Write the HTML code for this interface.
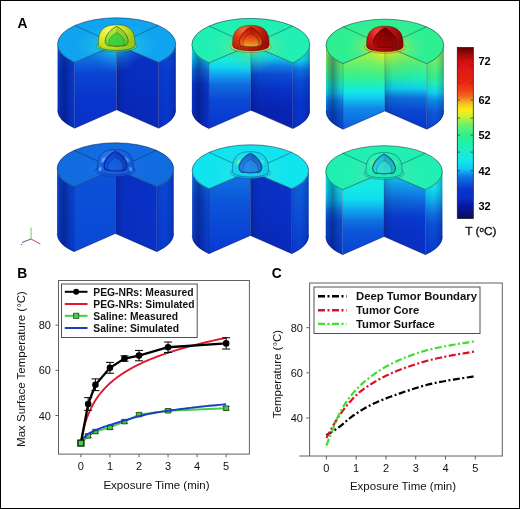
<!DOCTYPE html>
<html><head><meta charset="utf-8"><style>
html,body{margin:0;padding:0;background:#fff;width:520px;height:509px;overflow:hidden;}
svg{display:block;font-family:"Liberation Sans",sans-serif;}
svg{will-change:transform;}
</style></head><body><svg width="520" height="509" viewBox="0 0 520 509" font-family="Liberation Sans, sans-serif"><defs><linearGradient id="lw0" x1="0" y1="50" x2="0" y2="127.5" gradientUnits="userSpaceOnUse"><stop offset="0" stop-color="#0b4dd6"/><stop offset="0.26" stop-color="#093bd1"/><stop offset="1" stop-color="#0834cc"/></linearGradient><linearGradient id="li0" x1="0" y1="50" x2="0" y2="127.5" gradientUnits="userSpaceOnUse"><stop offset="0" stop-color="#108ce9"/><stop offset="0.15" stop-color="#0f67de"/><stop offset="0.32" stop-color="#0a44d4"/><stop offset="0.65" stop-color="#0834cd"/><stop offset="1" stop-color="#0833c9"/></linearGradient><linearGradient id="ri0" x1="0" y1="50" x2="0" y2="127.5" gradientUnits="userSpaceOnUse"><stop offset="0" stop-color="#0a44d4"/><stop offset="0.13" stop-color="#0831c7"/><stop offset="1" stop-color="#0828ba"/></linearGradient><linearGradient id="rw0" x1="0" y1="50" x2="0" y2="127.5" gradientUnits="userSpaceOnUse"><stop offset="0" stop-color="#0b4dd6"/><stop offset="0.26" stop-color="#093dd2"/><stop offset="1" stop-color="#0834cc"/></linearGradient><linearGradient id="lsh0" x1="-59.1" y1="0" x2="-42" y2="0" gradientUnits="userSpaceOnUse"><stop offset="0" stop-color="#000040" stop-opacity="0.05"/><stop offset="0.15" stop-color="#000040" stop-opacity="0.22"/><stop offset="0.4" stop-color="#000040" stop-opacity="0.38"/><stop offset="0.7" stop-color="#000040" stop-opacity="0.18"/><stop offset="1" stop-color="#000040" stop-opacity="0.03"/></linearGradient><linearGradient id="rsh0" x1="42" y1="0" x2="59.1" y2="0" gradientUnits="userSpaceOnUse"><stop offset="0" stop-color="#000040" stop-opacity="0.08"/><stop offset="0.5" stop-color="#000040" stop-opacity="0.0"/><stop offset="0.85" stop-color="#000040" stop-opacity="0.15"/><stop offset="1" stop-color="#000040" stop-opacity="0.3"/></linearGradient><linearGradient id="ris0" x1="0" y1="0" x2="42" y2="0" gradientUnits="userSpaceOnUse"><stop offset="0" stop-color="#000020" stop-opacity="0.2"/><stop offset="0.2" stop-color="#000020" stop-opacity="0.05"/><stop offset="1" stop-color="#000020" stop-opacity="0"/></linearGradient><radialGradient id="tg0" cx="0" cy="46.7" r="40" gradientUnits="userSpaceOnUse" gradientTransform="translate(0,46.7) scale(1,0.55) translate(0,-46.7)"><stop offset="0" stop-color="#30e0a0" stop-opacity="0.95"/><stop offset="0.3" stop-color="#20d8d8" stop-opacity="0.85"/><stop offset="0.6" stop-color="#20c8e8" stop-opacity="0.45"/><stop offset="1" stop-color="#20c0e0" stop-opacity="0"/></radialGradient><radialGradient id="fg0" cx="0" cy="48.7" r="24" gradientUnits="userSpaceOnUse" gradientTransform="translate(0,48.7) scale(1.1,1) translate(0,-48.7)"><stop offset="0" stop-color="#30e0b0" stop-opacity="0.9"/><stop offset="0.35" stop-color="#20c8e0" stop-opacity="0.45"/><stop offset="1" stop-color="#2090e8" stop-opacity="0"/></radialGradient><radialGradient id="dm0" cx="-7" cy="30.7" r="24" gradientUnits="userSpaceOnUse"><stop offset="0" stop-color="#f8f870"/><stop offset="0.45" stop-color="#e0ec28"/><stop offset="1" stop-color="#98c818"/></radialGradient><linearGradient id="hg0" x1="0" y1="29.7" x2="0" y2="49.7" gradientUnits="userSpaceOnUse"><stop offset="0" stop-color="#c0e830"/><stop offset="0.5" stop-color="#80e040"/><stop offset="1" stop-color="#40d040"/></linearGradient><linearGradient id="lw1" x1="0" y1="50" x2="0" y2="127.5" gradientUnits="userSpaceOnUse"><stop offset="0" stop-color="#13e9e7"/><stop offset="0.1" stop-color="#10cbf0"/><stop offset="0.26" stop-color="#1070e0"/><stop offset="0.45" stop-color="#093bd1"/><stop offset="0.65" stop-color="#0833cb"/><stop offset="1" stop-color="#0834cc"/></linearGradient><linearGradient id="li1" x1="0" y1="50" x2="0" y2="127.5" gradientUnits="userSpaceOnUse"><stop offset="0" stop-color="#22f0ad"/><stop offset="0.13" stop-color="#1aebd6"/><stop offset="0.23" stop-color="#10d2ef"/><stop offset="0.34" stop-color="#109aee"/><stop offset="0.45" stop-color="#106cdf"/><stop offset="0.65" stop-color="#0a48d5"/><stop offset="1" stop-color="#0836d0"/></linearGradient><linearGradient id="ri1" x1="0" y1="50" x2="0" y2="127.5" gradientUnits="userSpaceOnUse"><stop offset="0" stop-color="#20ecc5"/><stop offset="0.1" stop-color="#10d2ef"/><stop offset="0.21" stop-color="#107ee5"/><stop offset="0.32" stop-color="#0b4dd6"/><stop offset="0.52" stop-color="#0831c7"/><stop offset="0.77" stop-color="#0824b6"/><stop offset="1" stop-color="#0822b3"/></linearGradient><linearGradient id="rw1" x1="0" y1="50" x2="0" y2="127.5" gradientUnits="userSpaceOnUse"><stop offset="0" stop-color="#17eade"/><stop offset="0.13" stop-color="#10d2ef"/><stop offset="0.26" stop-color="#1070e0"/><stop offset="0.39" stop-color="#0b4dd6"/><stop offset="0.65" stop-color="#0835cf"/><stop offset="1" stop-color="#0834cc"/></linearGradient><linearGradient id="lsh1" x1="-59.1" y1="0" x2="-42" y2="0" gradientUnits="userSpaceOnUse"><stop offset="0" stop-color="#000040" stop-opacity="0.05"/><stop offset="0.15" stop-color="#000040" stop-opacity="0.22"/><stop offset="0.4" stop-color="#000040" stop-opacity="0.38"/><stop offset="0.7" stop-color="#000040" stop-opacity="0.18"/><stop offset="1" stop-color="#000040" stop-opacity="0.03"/></linearGradient><linearGradient id="rsh1" x1="42" y1="0" x2="59.1" y2="0" gradientUnits="userSpaceOnUse"><stop offset="0" stop-color="#000040" stop-opacity="0.08"/><stop offset="0.5" stop-color="#000040" stop-opacity="0.0"/><stop offset="0.85" stop-color="#000040" stop-opacity="0.15"/><stop offset="1" stop-color="#000040" stop-opacity="0.3"/></linearGradient><linearGradient id="ris1" x1="0" y1="0" x2="42" y2="0" gradientUnits="userSpaceOnUse"><stop offset="0" stop-color="#000020" stop-opacity="0.2"/><stop offset="0.2" stop-color="#000020" stop-opacity="0.05"/><stop offset="1" stop-color="#000020" stop-opacity="0"/></linearGradient><radialGradient id="tg1" cx="0" cy="46.7" r="40" gradientUnits="userSpaceOnUse" gradientTransform="translate(0,46.7) scale(1,0.55) translate(0,-46.7)"><stop offset="0" stop-color="#c0f040" stop-opacity="0.9"/><stop offset="0.35" stop-color="#80e880" stop-opacity="0.5"/><stop offset="1" stop-color="#60e0a0" stop-opacity="0"/></radialGradient><radialGradient id="fg1" cx="0" cy="48.7" r="26" gradientUnits="userSpaceOnUse" gradientTransform="translate(0,48.7) scale(1.1,1) translate(0,-48.7)"><stop offset="0" stop-color="#90e860" stop-opacity="0.9"/><stop offset="0.4" stop-color="#40e0a0" stop-opacity="0.45"/><stop offset="1" stop-color="#30d0d0" stop-opacity="0"/></radialGradient><radialGradient id="dm1" cx="-7" cy="30.7" r="24" gradientUnits="userSpaceOnUse"><stop offset="0" stop-color="#f07030"/><stop offset="0.4" stop-color="#e03810"/><stop offset="1" stop-color="#a01008"/></radialGradient><linearGradient id="hg1" x1="0" y1="29.7" x2="0" y2="49.7" gradientUnits="userSpaceOnUse"><stop offset="0" stop-color="#c01808"/><stop offset="0.45" stop-color="#e04010"/><stop offset="1" stop-color="#f0a020"/></linearGradient><linearGradient id="hn1" x1="0" y1="34.7" x2="0" y2="48.7" gradientUnits="userSpaceOnUse"><stop offset="0" stop-color="#d83010"/><stop offset="0.6" stop-color="#f08020"/><stop offset="1" stop-color="#f8d030"/></linearGradient><linearGradient id="lw2" x1="0" y1="50" x2="0" y2="127.5" gradientUnits="userSpaceOnUse"><stop offset="0" stop-color="#8df059"/><stop offset="0.15" stop-color="#69f06c"/><stop offset="0.32" stop-color="#3bf089"/><stop offset="0.44" stop-color="#20edc3"/><stop offset="0.54" stop-color="#10d5ef"/><stop offset="0.65" stop-color="#1087e8"/><stop offset="0.8" stop-color="#0d59da"/><stop offset="1" stop-color="#0a48d5"/></linearGradient><linearGradient id="li2" x1="0" y1="50" x2="0" y2="127.5" gradientUnits="userSpaceOnUse"><stop offset="0" stop-color="#d4f02f"/><stop offset="0.15" stop-color="#70f068"/><stop offset="0.32" stop-color="#3bf089"/><stop offset="0.44" stop-color="#20efb9"/><stop offset="0.52" stop-color="#14e9e4"/><stop offset="0.61" stop-color="#10cbf0"/><stop offset="0.75" stop-color="#1087e8"/><stop offset="1" stop-color="#0e60dc"/></linearGradient><linearGradient id="ri2" x1="0" y1="50" x2="0" y2="127.5" gradientUnits="userSpaceOnUse"><stop offset="0" stop-color="#b8f044"/><stop offset="0.15" stop-color="#59f076"/><stop offset="0.36" stop-color="#20f0b3"/><stop offset="0.49" stop-color="#10d2ef"/><stop offset="0.61" stop-color="#1070e0"/><stop offset="0.77" stop-color="#0a48d5"/><stop offset="1" stop-color="#0834cd"/></linearGradient><linearGradient id="rw2" x1="0" y1="50" x2="0" y2="127.5" gradientUnits="userSpaceOnUse"><stop offset="0" stop-color="#8df059"/><stop offset="0.15" stop-color="#69f06c"/><stop offset="0.32" stop-color="#3bf089"/><stop offset="0.44" stop-color="#20edc3"/><stop offset="0.54" stop-color="#10d5ef"/><stop offset="0.65" stop-color="#1087e8"/><stop offset="0.8" stop-color="#0d59da"/><stop offset="1" stop-color="#0a48d5"/></linearGradient><linearGradient id="lsh2" x1="-59.1" y1="0" x2="-42" y2="0" gradientUnits="userSpaceOnUse"><stop offset="0" stop-color="#000040" stop-opacity="0.05"/><stop offset="0.15" stop-color="#000040" stop-opacity="0.22"/><stop offset="0.4" stop-color="#000040" stop-opacity="0.38"/><stop offset="0.7" stop-color="#000040" stop-opacity="0.18"/><stop offset="1" stop-color="#000040" stop-opacity="0.03"/></linearGradient><linearGradient id="rsh2" x1="42" y1="0" x2="59.1" y2="0" gradientUnits="userSpaceOnUse"><stop offset="0" stop-color="#000040" stop-opacity="0.08"/><stop offset="0.5" stop-color="#000040" stop-opacity="0.0"/><stop offset="0.85" stop-color="#000040" stop-opacity="0.15"/><stop offset="1" stop-color="#000040" stop-opacity="0.3"/></linearGradient><linearGradient id="ris2" x1="0" y1="0" x2="42" y2="0" gradientUnits="userSpaceOnUse"><stop offset="0" stop-color="#000020" stop-opacity="0.2"/><stop offset="0.2" stop-color="#000020" stop-opacity="0.05"/><stop offset="1" stop-color="#000020" stop-opacity="0"/></linearGradient><radialGradient id="tg2" cx="0" cy="46.7" r="40" gradientUnits="userSpaceOnUse" gradientTransform="translate(0,46.7) scale(1,0.55) translate(0,-46.7)"><stop offset="0" stop-color="#f8f010" stop-opacity="0.95"/><stop offset="0.35" stop-color="#c0ec40" stop-opacity="0.6"/><stop offset="1" stop-color="#80e080" stop-opacity="0"/></radialGradient><radialGradient id="fg2" cx="0" cy="48.7" r="34" gradientUnits="userSpaceOnUse" gradientTransform="translate(0,48.7) scale(1.1,1) translate(0,-48.7)"><stop offset="0" stop-color="#f0f020" stop-opacity="1.0"/><stop offset="0.25" stop-color="#c0f038" stop-opacity="0.75"/><stop offset="0.6" stop-color="#70f060" stop-opacity="0.35"/><stop offset="1" stop-color="#50f080" stop-opacity="0"/></radialGradient><radialGradient id="dm2" cx="-7" cy="30.7" r="24" gradientUnits="userSpaceOnUse"><stop offset="0" stop-color="#f04838"/><stop offset="0.4" stop-color="#d01818"/><stop offset="1" stop-color="#8a0808"/></radialGradient><linearGradient id="hg2" x1="0" y1="29.7" x2="0" y2="49.7" gradientUnits="userSpaceOnUse"><stop offset="0" stop-color="#800000"/><stop offset="0.6" stop-color="#a80808"/><stop offset="1" stop-color="#c81010"/></linearGradient><linearGradient id="lw3" x1="0" y1="50" x2="0" y2="127.5" gradientUnits="userSpaceOnUse"><stop offset="0" stop-color="#0a48d5"/><stop offset="1" stop-color="#093dd2"/></linearGradient><linearGradient id="li3" x1="0" y1="50" x2="0" y2="127.5" gradientUnits="userSpaceOnUse"><stop offset="0" stop-color="#0c52d8"/><stop offset="1" stop-color="#0a48d5"/></linearGradient><linearGradient id="ri3" x1="0" y1="50" x2="0" y2="127.5" gradientUnits="userSpaceOnUse"><stop offset="0" stop-color="#0832c8"/><stop offset="1" stop-color="#0831c5"/></linearGradient><linearGradient id="rw3" x1="0" y1="50" x2="0" y2="127.5" gradientUnits="userSpaceOnUse"><stop offset="0" stop-color="#0a48d5"/><stop offset="1" stop-color="#093dd2"/></linearGradient><linearGradient id="lsh3" x1="-59.1" y1="0" x2="-42" y2="0" gradientUnits="userSpaceOnUse"><stop offset="0" stop-color="#000040" stop-opacity="0.05"/><stop offset="0.15" stop-color="#000040" stop-opacity="0.22"/><stop offset="0.4" stop-color="#000040" stop-opacity="0.38"/><stop offset="0.7" stop-color="#000040" stop-opacity="0.18"/><stop offset="1" stop-color="#000040" stop-opacity="0.03"/></linearGradient><linearGradient id="rsh3" x1="42" y1="0" x2="59.1" y2="0" gradientUnits="userSpaceOnUse"><stop offset="0" stop-color="#000040" stop-opacity="0.08"/><stop offset="0.5" stop-color="#000040" stop-opacity="0.0"/><stop offset="0.85" stop-color="#000040" stop-opacity="0.15"/><stop offset="1" stop-color="#000040" stop-opacity="0.3"/></linearGradient><linearGradient id="ris3" x1="0" y1="0" x2="42" y2="0" gradientUnits="userSpaceOnUse"><stop offset="0" stop-color="#000020" stop-opacity="0.2"/><stop offset="0.2" stop-color="#000020" stop-opacity="0.05"/><stop offset="1" stop-color="#000020" stop-opacity="0"/></linearGradient><radialGradient id="tg3" cx="0" cy="46.7" r="40" gradientUnits="userSpaceOnUse" gradientTransform="translate(0,46.7) scale(1,0.55) translate(0,-46.7)"><stop offset="0" stop-color="#2070e8" stop-opacity="0.6"/><stop offset="1" stop-color="#2070e8" stop-opacity="0"/></radialGradient><radialGradient id="dm3" cx="-7" cy="30.7" r="24" gradientUnits="userSpaceOnUse"><stop offset="0" stop-color="#2a78ec"/><stop offset="0.5" stop-color="#1a64e4"/><stop offset="1" stop-color="#1458d8"/></radialGradient><radialGradient id="hl3_-12" cx="0" cy="0" r="1" gradientUnits="userSpaceOnUse"><stop offset="0" stop-color="#70c8ff" stop-opacity="0.9"/><stop offset="1" stop-color="#70c8ff" stop-opacity="0"/></radialGradient><radialGradient id="hl3_12" cx="0" cy="0" r="1" gradientUnits="userSpaceOnUse"><stop offset="0" stop-color="#60b0ff" stop-opacity="0.8"/><stop offset="1" stop-color="#60b0ff" stop-opacity="0"/></radialGradient><radialGradient id="hl3_-15.5" cx="0" cy="0" r="1" gradientUnits="userSpaceOnUse"><stop offset="0" stop-color="#80d0ff" stop-opacity="0.8"/><stop offset="1" stop-color="#80d0ff" stop-opacity="0"/></radialGradient><radialGradient id="hl3_15.5" cx="0" cy="0" r="1" gradientUnits="userSpaceOnUse"><stop offset="0" stop-color="#80d0ff" stop-opacity="0.7"/><stop offset="1" stop-color="#80d0ff" stop-opacity="0"/></radialGradient><linearGradient id="hg3" x1="0" y1="29.7" x2="0" y2="49.7" gradientUnits="userSpaceOnUse"><stop offset="0" stop-color="#0c48d4"/><stop offset="1" stop-color="#1256dc"/></linearGradient><linearGradient id="lw4" x1="0" y1="50" x2="0" y2="127.5" gradientUnits="userSpaceOnUse"><stop offset="0" stop-color="#1070e0"/><stop offset="0.32" stop-color="#0b4dd6"/><stop offset="1" stop-color="#093bd1"/></linearGradient><linearGradient id="li4" x1="0" y1="50" x2="0" y2="127.5" gradientUnits="userSpaceOnUse"><stop offset="0" stop-color="#1073e1"/><stop offset="0.32" stop-color="#0c56d9"/><stop offset="1" stop-color="#083ad1"/></linearGradient><linearGradient id="ri4" x1="0" y1="50" x2="0" y2="127.5" gradientUnits="userSpaceOnUse"><stop offset="0" stop-color="#0834cc"/><stop offset="1" stop-color="#082abd"/></linearGradient><linearGradient id="rw4" x1="0" y1="50" x2="0" y2="127.5" gradientUnits="userSpaceOnUse"><stop offset="0" stop-color="#0e64dd"/><stop offset="1" stop-color="#093bd1"/></linearGradient><linearGradient id="lsh4" x1="-59.1" y1="0" x2="-42" y2="0" gradientUnits="userSpaceOnUse"><stop offset="0" stop-color="#000040" stop-opacity="0.05"/><stop offset="0.15" stop-color="#000040" stop-opacity="0.22"/><stop offset="0.4" stop-color="#000040" stop-opacity="0.38"/><stop offset="0.7" stop-color="#000040" stop-opacity="0.18"/><stop offset="1" stop-color="#000040" stop-opacity="0.03"/></linearGradient><linearGradient id="rsh4" x1="42" y1="0" x2="59.1" y2="0" gradientUnits="userSpaceOnUse"><stop offset="0" stop-color="#000040" stop-opacity="0.08"/><stop offset="0.5" stop-color="#000040" stop-opacity="0.0"/><stop offset="0.85" stop-color="#000040" stop-opacity="0.15"/><stop offset="1" stop-color="#000040" stop-opacity="0.3"/></linearGradient><linearGradient id="ris4" x1="0" y1="0" x2="42" y2="0" gradientUnits="userSpaceOnUse"><stop offset="0" stop-color="#000020" stop-opacity="0.2"/><stop offset="0.2" stop-color="#000020" stop-opacity="0.05"/><stop offset="1" stop-color="#000020" stop-opacity="0"/></linearGradient><radialGradient id="tg4" cx="0" cy="46.7" r="40" gradientUnits="userSpaceOnUse" gradientTransform="translate(0,46.7) scale(1,0.55) translate(0,-46.7)"><stop offset="0" stop-color="#40e0e0" stop-opacity="0.7"/><stop offset="1" stop-color="#40e0e0" stop-opacity="0"/></radialGradient><radialGradient id="dm4" cx="-7" cy="30.7" r="24" gradientUnits="userSpaceOnUse"><stop offset="0" stop-color="#20e0e8"/><stop offset="0.5" stop-color="#14dce4"/><stop offset="1" stop-color="#10d0e4"/></radialGradient><radialGradient id="hl4_-12" cx="0" cy="0" r="1" gradientUnits="userSpaceOnUse"><stop offset="0" stop-color="#b0f080" stop-opacity="0.8"/><stop offset="1" stop-color="#b0f080" stop-opacity="0"/></radialGradient><radialGradient id="hl4_12" cx="0" cy="0" r="1" gradientUnits="userSpaceOnUse"><stop offset="0" stop-color="#80f0d0" stop-opacity="0.6"/><stop offset="1" stop-color="#80f0d0" stop-opacity="0"/></radialGradient><linearGradient id="hg4" x1="0" y1="29.7" x2="0" y2="49.7" gradientUnits="userSpaceOnUse"><stop offset="0" stop-color="#1c70e0"/><stop offset="1" stop-color="#2488e8"/></linearGradient><linearGradient id="lw5" x1="0" y1="50" x2="0" y2="127.5" gradientUnits="userSpaceOnUse"><stop offset="0" stop-color="#14e9e4"/><stop offset="0.15" stop-color="#10e2ee"/><stop offset="0.31" stop-color="#10bdf0"/><stop offset="0.45" stop-color="#1073e1"/><stop offset="0.58" stop-color="#0b4fd7"/><stop offset="1" stop-color="#093bd1"/></linearGradient><linearGradient id="li5" x1="0" y1="50" x2="0" y2="127.5" gradientUnits="userSpaceOnUse"><stop offset="0" stop-color="#17eadd"/><stop offset="0.15" stop-color="#14e9e5"/><stop offset="0.28" stop-color="#10e0ef"/><stop offset="0.44" stop-color="#10a4f0"/><stop offset="0.57" stop-color="#1073e1"/><stop offset="0.7" stop-color="#0c56d9"/><stop offset="1" stop-color="#0a44d4"/></linearGradient><linearGradient id="ri5" x1="0" y1="50" x2="0" y2="127.5" gradientUnits="userSpaceOnUse"><stop offset="0" stop-color="#10cbf0"/><stop offset="0.15" stop-color="#1095ec"/><stop offset="0.32" stop-color="#0f67de"/><stop offset="0.52" stop-color="#093bd1"/><stop offset="0.71" stop-color="#0833c9"/><stop offset="1" stop-color="#0830c4"/></linearGradient><linearGradient id="rw5" x1="0" y1="50" x2="0" y2="127.5" gradientUnits="userSpaceOnUse"><stop offset="0" stop-color="#14e9e4"/><stop offset="0.15" stop-color="#10e2ee"/><stop offset="0.32" stop-color="#10abf0"/><stop offset="0.49" stop-color="#106cdf"/><stop offset="0.65" stop-color="#0b4dd6"/><stop offset="1" stop-color="#093bd1"/></linearGradient><linearGradient id="lsh5" x1="-59.1" y1="0" x2="-42" y2="0" gradientUnits="userSpaceOnUse"><stop offset="0" stop-color="#000040" stop-opacity="0.05"/><stop offset="0.15" stop-color="#000040" stop-opacity="0.22"/><stop offset="0.4" stop-color="#000040" stop-opacity="0.38"/><stop offset="0.7" stop-color="#000040" stop-opacity="0.18"/><stop offset="1" stop-color="#000040" stop-opacity="0.03"/></linearGradient><linearGradient id="rsh5" x1="42" y1="0" x2="59.1" y2="0" gradientUnits="userSpaceOnUse"><stop offset="0" stop-color="#000040" stop-opacity="0.08"/><stop offset="0.5" stop-color="#000040" stop-opacity="0.0"/><stop offset="0.85" stop-color="#000040" stop-opacity="0.15"/><stop offset="1" stop-color="#000040" stop-opacity="0.3"/></linearGradient><linearGradient id="ris5" x1="0" y1="0" x2="42" y2="0" gradientUnits="userSpaceOnUse"><stop offset="0" stop-color="#000020" stop-opacity="0.2"/><stop offset="0.2" stop-color="#000020" stop-opacity="0.05"/><stop offset="1" stop-color="#000020" stop-opacity="0"/></linearGradient><radialGradient id="tg5" cx="0" cy="46.7" r="40" gradientUnits="userSpaceOnUse" gradientTransform="translate(0,46.7) scale(1,0.55) translate(0,-46.7)"><stop offset="0" stop-color="#60e0b0" stop-opacity="0.6"/><stop offset="1" stop-color="#60e0b0" stop-opacity="0"/></radialGradient><radialGradient id="dm5" cx="-7" cy="30.7" r="24" gradientUnits="userSpaceOnUse"><stop offset="0" stop-color="#30f0b8"/><stop offset="0.5" stop-color="#24eeb4"/><stop offset="1" stop-color="#20e8b0"/></radialGradient><radialGradient id="hl5_-12" cx="0" cy="0" r="1" gradientUnits="userSpaceOnUse"><stop offset="0" stop-color="#a0f070" stop-opacity="0.7"/><stop offset="1" stop-color="#a0f070" stop-opacity="0"/></radialGradient><radialGradient id="hl5_12" cx="0" cy="0" r="1" gradientUnits="userSpaceOnUse"><stop offset="0" stop-color="#a0f0a0" stop-opacity="0.5"/><stop offset="1" stop-color="#a0f0a0" stop-opacity="0"/></radialGradient><linearGradient id="hg5" x1="0" y1="29.7" x2="0" y2="49.7" gradientUnits="userSpaceOnUse"><stop offset="0" stop-color="#20c0e0"/><stop offset="1" stop-color="#30dcd0"/></linearGradient><linearGradient id="cbar" x1="0" y1="0" x2="0" y2="1"><stop offset="0" stop-color="#600000"/><stop offset="0.04" stop-color="#a00808"/><stop offset="0.08" stop-color="#d01010"/><stop offset="0.13" stop-color="#e01818"/><stop offset="0.19" stop-color="#e82010"/><stop offset="0.25" stop-color="#f04018"/><stop offset="0.29" stop-color="#f07020"/><stop offset="0.31" stop-color="#f0a020"/><stop offset="0.34" stop-color="#f8d020"/><stop offset="0.37" stop-color="#f8f010"/><stop offset="0.41" stop-color="#c0f040"/><stop offset="0.45" stop-color="#70f068"/><stop offset="0.51" stop-color="#30f090"/><stop offset="0.57" stop-color="#20f0b0"/><stop offset="0.61" stop-color="#20ecc8"/><stop offset="0.66" stop-color="#10e8ee"/><stop offset="0.71" stop-color="#10c8f0"/><stop offset="0.73" stop-color="#10a0f0"/><stop offset="0.76" stop-color="#1070e0"/><stop offset="0.83" stop-color="#0836d0"/><stop offset="0.88" stop-color="#0830c4"/><stop offset="0.92" stop-color="#0818a8"/><stop offset="0.98" stop-color="#0a1070"/><stop offset="1" stop-color="#080860"/></linearGradient></defs><rect x="0" y="0" width="520" height="509" fill="#fff"/><g transform="translate(116.65,17.8) scale(1.0) translate(0,-18.5)"><g><path d="M-59.1,44.7 A59.1,26.2 0 0 0 -42,63.1 L-42,128.9 A59.1,26.2 0 0 1 -59.1,110.5 Z" fill="url(#lw0)"/><path d="M-59.1,44.7 A59.1,26.2 0 0 0 -42,63.1 L-42,128.9 A59.1,26.2 0 0 1 -59.1,110.5 Z" fill="url(#lsh0)"/><path d="M42,63.1 A59.1,26.2 0 0 0 59.1,44.7 L59.1,110.5 A59.1,26.2 0 0 1 42,128.9 Z" fill="url(#rw0)"/><path d="M42,63.1 A59.1,26.2 0 0 0 59.1,44.7 L59.1,110.5 A59.1,26.2 0 0 1 42,128.9 Z" fill="url(#rsh0)"/><path d="M-42,63.1 L0,45.2 L0,110.5 L-42,128.9 Z" fill="url(#li0)"/><path d="M0,45.2 L42,63.1 L42,128.9 L0,110.5 Z" fill="url(#ri0)"/><path d="M0,45.2 L42,63.1 L42,128.9 L0,110.5 Z" fill="url(#ris0)"/><path d="M-42,63.1 L0,45.2 L0,110.5 L-42,128.9 Z" fill="url(#fg0)"/><path d="M0,45.2 L42,63.1 L42,128.9 L0,110.5 Z" fill="url(#fg0)" opacity="0.85"/><path d="M0,45.2 L42,63.1 A59.1,26.2 0 1 0 -42,63.1 Z" fill="#10a4f0"/><path d="M0,45.2 L42,63.1 A59.1,26.2 0 1 0 -42,63.1 Z" fill="url(#tg0)"/><path d="M0,45.2 L42,63.1 A59.1,26.2 0 1 0 -42,63.1 Z" fill="none" stroke="#001030" stroke-width="0.8" stroke-opacity="0.6"/><path d="M0,45.2 L-41.79,26.17 M0,45.2 L41.79,26.17" stroke="#001030" stroke-width="0.8" stroke-opacity="0.45" fill="none"/><path d="M0,45.2 L0,110.5 M-42,63.1 L-42,128.9 M42,63.1 L42,128.9" stroke="#001030" stroke-width="0.6" stroke-opacity="0.35" fill="none"/><path d="M-59.1,110.5 A59.1,26.2 0 0 0 -42,128.9 L0,110.5 L42,128.9 A59.1,26.2 0 0 0 59.1,110.5" stroke="#000040" stroke-width="0.9" stroke-opacity="0.45" fill="none"/><ellipse cx="0" cy="46.7" rx="20.5" ry="6" fill="#40d890" fill-opacity="0.7" stroke="#1a2a10" stroke-width="0.6" stroke-opacity="0.5"/><path d="M-18.2,46.2 C-19.2,30.7 -12.5,25.5 0,25.5 C12.5,25.5 19.2,30.7 18.2,46.2 A18.2,5 0 0 1 -18.2,46.2 Z" fill="url(#dm0)" stroke="#1a2a10" stroke-width="0.7" stroke-opacity="0.6"/><path d="M0,27.2 C-5,29.2 -11.5,35.7 -11.5,41.7 C-11.5,45.7 -8.5,47 -4.5,46.5 L0,47 Z" fill="url(#hg0)"/><path d="M0,27.2 C5,29.2 11.5,35.7 11.5,41.7 C11.5,45.7 8.5,47 4.5,46.5 L0,47 Z" fill="url(#hg0)"/><path d="M0,27.2 C5,29.2 11.5,35.7 11.5,41.7 C11.5,45.7 8.5,47 4.5,46.5 L0,47 Z" fill="#000" fill-opacity="0.10"/><path d="M0,27.2 C5,29.2 11.5,35.7 11.5,41.7 C11.5,45.7 8.5,47 4.5,46.5 L0,47 L-4.5,46.5 C-8.5,47 -11.5,45.7 -11.5,41.7 C-11.5,35.7 -5,29.2 0,27.2 Z" fill="none" stroke="#1a2a10" stroke-width="0.8" stroke-opacity="0.7"/><path d="M0,29.2 L0,47" stroke="#1a2a10" stroke-width="0.5" stroke-opacity="0.35"/><path d="M0,33.44 C3.4,34.8 7.82,39.22 7.82,43.3 C7.82,46.02 5.78,46.9 3.06,46.56 L0,46.9 L-3.06,46.56 C-5.78,46.9 -7.82,46.02 -7.82,43.3 C-7.82,39.22 -3.4,34.8 0,33.44 Z" fill="#38d038" fill-opacity="0.85" stroke="#1a2a10" stroke-width="0.6" stroke-opacity="0.5"/></g></g><g transform="translate(250.85,18.4) scale(0.998) translate(0,-18.5)"><g><path d="M-59.1,44.7 A59.1,26.2 0 0 0 -42,63.1 L-42,128.9 A59.1,26.2 0 0 1 -59.1,110.5 Z" fill="url(#lw1)"/><path d="M-59.1,44.7 A59.1,26.2 0 0 0 -42,63.1 L-42,128.9 A59.1,26.2 0 0 1 -59.1,110.5 Z" fill="url(#lsh1)"/><path d="M42,63.1 A59.1,26.2 0 0 0 59.1,44.7 L59.1,110.5 A59.1,26.2 0 0 1 42,128.9 Z" fill="url(#rw1)"/><path d="M42,63.1 A59.1,26.2 0 0 0 59.1,44.7 L59.1,110.5 A59.1,26.2 0 0 1 42,128.9 Z" fill="url(#rsh1)"/><path d="M-42,63.1 L0,45.2 L0,110.5 L-42,128.9 Z" fill="url(#li1)"/><path d="M0,45.2 L42,63.1 L42,128.9 L0,110.5 Z" fill="url(#ri1)"/><path d="M0,45.2 L42,63.1 L42,128.9 L0,110.5 Z" fill="url(#ris1)"/><path d="M-42,63.1 L0,45.2 L0,110.5 L-42,128.9 Z" fill="url(#fg1)"/><path d="M0,45.2 L42,63.1 L42,128.9 L0,110.5 Z" fill="url(#fg1)" opacity="0.85"/><path d="M0,45.2 L42,63.1 A59.1,26.2 0 1 0 -42,63.1 Z" fill="#20f0b3"/><path d="M0,45.2 L42,63.1 A59.1,26.2 0 1 0 -42,63.1 Z" fill="url(#tg1)"/><path d="M0,45.2 L42,63.1 A59.1,26.2 0 1 0 -42,63.1 Z" fill="none" stroke="#001030" stroke-width="0.8" stroke-opacity="0.6"/><path d="M0,45.2 L-41.79,26.17 M0,45.2 L41.79,26.17" stroke="#001030" stroke-width="0.8" stroke-opacity="0.45" fill="none"/><path d="M0,45.2 L0,110.5 M-42,63.1 L-42,128.9 M42,63.1 L42,128.9" stroke="#001030" stroke-width="0.6" stroke-opacity="0.35" fill="none"/><path d="M-59.1,110.5 A59.1,26.2 0 0 0 -42,128.9 L0,110.5 L42,128.9 A59.1,26.2 0 0 0 59.1,110.5" stroke="#000040" stroke-width="0.9" stroke-opacity="0.45" fill="none"/><ellipse cx="0" cy="46.7" rx="20.5" ry="6" fill="#d0f060" fill-opacity="0.7" stroke="#401008" stroke-width="0.6" stroke-opacity="0.5"/><path d="M-18.2,46.2 C-19.2,30.7 -12.5,25.5 0,25.5 C12.5,25.5 19.2,30.7 18.2,46.2 A18.2,5 0 0 1 -18.2,46.2 Z" fill="url(#dm1)" stroke="#401008" stroke-width="0.7" stroke-opacity="0.6"/><path d="M0,27.2 C-5,29.2 -11.5,35.7 -11.5,41.7 C-11.5,45.7 -8.5,47 -4.5,46.5 L0,47 Z" fill="url(#hg1)"/><path d="M0,27.2 C5,29.2 11.5,35.7 11.5,41.7 C11.5,45.7 8.5,47 4.5,46.5 L0,47 Z" fill="url(#hg1)"/><path d="M0,27.2 C5,29.2 11.5,35.7 11.5,41.7 C11.5,45.7 8.5,47 4.5,46.5 L0,47 Z" fill="#000" fill-opacity="0.10"/><path d="M0,27.2 C5,29.2 11.5,35.7 11.5,41.7 C11.5,45.7 8.5,47 4.5,46.5 L0,47 L-4.5,46.5 C-8.5,47 -11.5,45.7 -11.5,41.7 C-11.5,35.7 -5,29.2 0,27.2 Z" fill="none" stroke="#401008" stroke-width="0.8" stroke-opacity="0.7"/><path d="M0,29.2 L0,47" stroke="#401008" stroke-width="0.5" stroke-opacity="0.35"/><path d="M0,33.44 C3.4,34.8 7.82,39.22 7.82,43.3 C7.82,46.02 5.78,46.9 3.06,46.56 L0,46.9 L-3.06,46.56 C-5.78,46.9 -7.82,46.02 -7.82,43.3 C-7.82,39.22 -3.4,34.8 0,33.44 Z" fill="url(#hn1)" fill-opacity="0.85" stroke="#401008" stroke-width="0.6" stroke-opacity="0.5"/></g></g><g transform="translate(384.9,19.2) scale(0.997) translate(0,-18.5)"><g><path d="M-59.1,44.7 A59.1,26.2 0 0 0 -42,63.1 L-42,128.9 A59.1,26.2 0 0 1 -59.1,110.5 Z" fill="url(#lw2)"/><path d="M-59.1,44.7 A59.1,26.2 0 0 0 -42,63.1 L-42,128.9 A59.1,26.2 0 0 1 -59.1,110.5 Z" fill="url(#lsh2)"/><path d="M42,63.1 A59.1,26.2 0 0 0 59.1,44.7 L59.1,110.5 A59.1,26.2 0 0 1 42,128.9 Z" fill="url(#rw2)"/><path d="M42,63.1 A59.1,26.2 0 0 0 59.1,44.7 L59.1,110.5 A59.1,26.2 0 0 1 42,128.9 Z" fill="url(#rsh2)"/><path d="M-42,63.1 L0,45.2 L0,110.5 L-42,128.9 Z" fill="url(#li2)"/><path d="M0,45.2 L42,63.1 L42,128.9 L0,110.5 Z" fill="url(#ri2)"/><path d="M0,45.2 L42,63.1 L42,128.9 L0,110.5 Z" fill="url(#ris2)"/><path d="M-42,63.1 L0,45.2 L0,110.5 L-42,128.9 Z" fill="url(#fg2)"/><path d="M0,45.2 L42,63.1 L42,128.9 L0,110.5 Z" fill="url(#fg2)" opacity="0.85"/><path d="M0,45.2 L42,63.1 A59.1,26.2 0 1 0 -42,63.1 Z" fill="#2ef093"/><path d="M0,45.2 L42,63.1 A59.1,26.2 0 1 0 -42,63.1 Z" fill="url(#tg2)"/><path d="M0,45.2 L42,63.1 A59.1,26.2 0 1 0 -42,63.1 Z" fill="none" stroke="#001030" stroke-width="0.8" stroke-opacity="0.6"/><path d="M0,45.2 L-41.79,26.17 M0,45.2 L41.79,26.17" stroke="#001030" stroke-width="0.8" stroke-opacity="0.45" fill="none"/><path d="M0,45.2 L0,110.5 M-42,63.1 L-42,128.9 M42,63.1 L42,128.9" stroke="#001030" stroke-width="0.6" stroke-opacity="0.35" fill="none"/><path d="M-59.1,110.5 A59.1,26.2 0 0 0 -42,128.9 L0,110.5 L42,128.9 A59.1,26.2 0 0 0 59.1,110.5" stroke="#000040" stroke-width="0.9" stroke-opacity="0.45" fill="none"/><ellipse cx="0" cy="46.7" rx="20.5" ry="6" fill="#f0e020" fill-opacity="0.7" stroke="#400404" stroke-width="0.6" stroke-opacity="0.5"/><path d="M-18.2,46.2 C-19.2,30.7 -12.5,25.5 0,25.5 C12.5,25.5 19.2,30.7 18.2,46.2 A18.2,5 0 0 1 -18.2,46.2 Z" fill="url(#dm2)" stroke="#400404" stroke-width="0.7" stroke-opacity="0.6"/><path d="M0,27.2 C-5,29.2 -11.5,35.7 -11.5,41.7 C-11.5,45.7 -8.5,47 -4.5,46.5 L0,47 Z" fill="url(#hg2)"/><path d="M0,27.2 C5,29.2 11.5,35.7 11.5,41.7 C11.5,45.7 8.5,47 4.5,46.5 L0,47 Z" fill="url(#hg2)"/><path d="M0,27.2 C5,29.2 11.5,35.7 11.5,41.7 C11.5,45.7 8.5,47 4.5,46.5 L0,47 Z" fill="#000" fill-opacity="0.10"/><path d="M0,27.2 C5,29.2 11.5,35.7 11.5,41.7 C11.5,45.7 8.5,47 4.5,46.5 L0,47 L-4.5,46.5 C-8.5,47 -11.5,45.7 -11.5,41.7 C-11.5,35.7 -5,29.2 0,27.2 Z" fill="none" stroke="#400404" stroke-width="0.8" stroke-opacity="0.7"/><path d="M0,29.2 L0,47" stroke="#400404" stroke-width="0.5" stroke-opacity="0.35"/><path d="M0,33.44 C3.4,34.8 7.82,39.22 7.82,43.3 C7.82,46.02 5.78,46.9 3.06,46.56 L0,46.9 L-3.06,46.56 C-5.78,46.9 -7.82,46.02 -7.82,43.3 C-7.82,39.22 -3.4,34.8 0,33.44 Z" fill="#900404" fill-opacity="0.6" stroke="#400404" stroke-width="0.6" stroke-opacity="0.5"/></g></g><g transform="translate(115.4,142.8) scale(0.986) translate(0,-18.5)"><g><path d="M-59.1,44.7 A59.1,26.2 0 0 0 -42,63.1 L-42,128.9 A59.1,26.2 0 0 1 -59.1,110.5 Z" fill="url(#lw3)"/><path d="M-59.1,44.7 A59.1,26.2 0 0 0 -42,63.1 L-42,128.9 A59.1,26.2 0 0 1 -59.1,110.5 Z" fill="url(#lsh3)"/><path d="M42,63.1 A59.1,26.2 0 0 0 59.1,44.7 L59.1,110.5 A59.1,26.2 0 0 1 42,128.9 Z" fill="url(#rw3)"/><path d="M42,63.1 A59.1,26.2 0 0 0 59.1,44.7 L59.1,110.5 A59.1,26.2 0 0 1 42,128.9 Z" fill="url(#rsh3)"/><path d="M-42,63.1 L0,45.2 L0,110.5 L-42,128.9 Z" fill="url(#li3)"/><path d="M0,45.2 L42,63.1 L42,128.9 L0,110.5 Z" fill="url(#ri3)"/><path d="M0,45.2 L42,63.1 L42,128.9 L0,110.5 Z" fill="url(#ris3)"/><path d="M0,45.2 L42,63.1 A59.1,26.2 0 1 0 -42,63.1 Z" fill="#106cdf"/><path d="M0,45.2 L42,63.1 A59.1,26.2 0 1 0 -42,63.1 Z" fill="url(#tg3)"/><path d="M0,45.2 L42,63.1 A59.1,26.2 0 1 0 -42,63.1 Z" fill="none" stroke="#001030" stroke-width="0.8" stroke-opacity="0.6"/><path d="M0,45.2 L-41.79,26.17 M0,45.2 L41.79,26.17" stroke="#001030" stroke-width="0.8" stroke-opacity="0.45" fill="none"/><path d="M0,45.2 L0,110.5 M-42,63.1 L-42,128.9 M42,63.1 L42,128.9" stroke="#001030" stroke-width="0.6" stroke-opacity="0.35" fill="none"/><path d="M-59.1,110.5 A59.1,26.2 0 0 0 -42,128.9 L0,110.5 L42,128.9 A59.1,26.2 0 0 0 59.1,110.5" stroke="#000040" stroke-width="0.9" stroke-opacity="0.45" fill="none"/><ellipse cx="0" cy="46.7" rx="20.5" ry="6" fill="#1a64e4" fill-opacity="0.7" stroke="#061880" stroke-width="0.6" stroke-opacity="0.5"/><path d="M-18.2,46.2 C-19.2,30.7 -12.5,25.5 0,25.5 C12.5,25.5 19.2,30.7 18.2,46.2 A18.2,5 0 0 1 -18.2,46.2 Z" fill="url(#dm3)" stroke="#061880" stroke-width="0.7" stroke-opacity="0.6"/><ellipse cx="0" cy="0" rx="1" ry="1" fill="url(#hl3_-12)" transform="translate(-12,35.7) rotate(-50) scale(4.5,2.5)"/><ellipse cx="0" cy="0" rx="1" ry="1" fill="url(#hl3_12)" transform="translate(12,35.7) rotate(50) scale(4.5,2.5)"/><ellipse cx="0" cy="0" rx="1" ry="1" fill="url(#hl3_-15.5)" transform="translate(-15.5,45.2) rotate(20) scale(2.2,3.5)"/><ellipse cx="0" cy="0" rx="1" ry="1" fill="url(#hl3_15.5)" transform="translate(15.5,45.2) rotate(-20) scale(2.2,3.5)"/><path d="M0,27.2 C-5,29.2 -11.5,35.7 -11.5,41.7 C-11.5,45.7 -8.5,47 -4.5,46.5 L0,47 Z" fill="url(#hg3)"/><path d="M0,27.2 C5,29.2 11.5,35.7 11.5,41.7 C11.5,45.7 8.5,47 4.5,46.5 L0,47 Z" fill="url(#hg3)"/><path d="M0,27.2 C5,29.2 11.5,35.7 11.5,41.7 C11.5,45.7 8.5,47 4.5,46.5 L0,47 Z" fill="#000" fill-opacity="0.10"/><path d="M0,27.2 C5,29.2 11.5,35.7 11.5,41.7 C11.5,45.7 8.5,47 4.5,46.5 L0,47 L-4.5,46.5 C-8.5,47 -11.5,45.7 -11.5,41.7 C-11.5,35.7 -5,29.2 0,27.2 Z" fill="none" stroke="#061880" stroke-width="1.4" stroke-opacity="0.7"/><path d="M0,29.2 L0,47" stroke="#061880" stroke-width="0.5" stroke-opacity="0.35"/><path d="M0,33.44 C3.4,34.8 7.82,39.22 7.82,43.3 C7.82,46.02 5.78,46.9 3.06,46.56 L0,46.9 L-3.06,46.56 C-5.78,46.9 -7.82,46.02 -7.82,43.3 C-7.82,39.22 -3.4,34.8 0,33.44 Z" fill="#1a62e2" fill-opacity="0.8" stroke="#061880" stroke-width="0.6" stroke-opacity="0.5"/></g></g><g transform="translate(250.4,144.8) scale(0.986) translate(0,-18.5)"><g><path d="M-59.1,44.7 A59.1,26.2 0 0 0 -42,63.1 L-42,128.9 A59.1,26.2 0 0 1 -59.1,110.5 Z" fill="url(#lw4)"/><path d="M-59.1,44.7 A59.1,26.2 0 0 0 -42,63.1 L-42,128.9 A59.1,26.2 0 0 1 -59.1,110.5 Z" fill="url(#lsh4)"/><path d="M42,63.1 A59.1,26.2 0 0 0 59.1,44.7 L59.1,110.5 A59.1,26.2 0 0 1 42,128.9 Z" fill="url(#rw4)"/><path d="M42,63.1 A59.1,26.2 0 0 0 59.1,44.7 L59.1,110.5 A59.1,26.2 0 0 1 42,128.9 Z" fill="url(#rsh4)"/><path d="M-42,63.1 L0,45.2 L0,110.5 L-42,128.9 Z" fill="url(#li4)"/><path d="M0,45.2 L42,63.1 L42,128.9 L0,110.5 Z" fill="url(#ri4)"/><path d="M0,45.2 L42,63.1 L42,128.9 L0,110.5 Z" fill="url(#ris4)"/><path d="M0,45.2 L42,63.1 A59.1,26.2 0 1 0 -42,63.1 Z" fill="#10e4ee"/><path d="M0,45.2 L42,63.1 A59.1,26.2 0 1 0 -42,63.1 Z" fill="url(#tg4)"/><path d="M0,45.2 L42,63.1 A59.1,26.2 0 1 0 -42,63.1 Z" fill="none" stroke="#001030" stroke-width="0.8" stroke-opacity="0.6"/><path d="M0,45.2 L-41.79,26.17 M0,45.2 L41.79,26.17" stroke="#001030" stroke-width="0.8" stroke-opacity="0.45" fill="none"/><path d="M0,45.2 L0,110.5 M-42,63.1 L-42,128.9 M42,63.1 L42,128.9" stroke="#001030" stroke-width="0.6" stroke-opacity="0.35" fill="none"/><path d="M-59.1,110.5 A59.1,26.2 0 0 0 -42,128.9 L0,110.5 L42,128.9 A59.1,26.2 0 0 0 59.1,110.5" stroke="#000040" stroke-width="0.9" stroke-opacity="0.45" fill="none"/><ellipse cx="0" cy="46.7" rx="20.5" ry="6" fill="#14dce4" fill-opacity="0.7" stroke="#0a2878" stroke-width="0.6" stroke-opacity="0.5"/><path d="M-18.2,46.2 C-19.2,30.7 -12.5,25.5 0,25.5 C12.5,25.5 19.2,30.7 18.2,46.2 A18.2,5 0 0 1 -18.2,46.2 Z" fill="url(#dm4)" stroke="#0a2878" stroke-width="0.7" stroke-opacity="0.6"/><ellipse cx="0" cy="0" rx="1" ry="1" fill="url(#hl4_-12)" transform="translate(-12,35.7) rotate(-50) scale(4.5,2.5)"/><ellipse cx="0" cy="0" rx="1" ry="1" fill="url(#hl4_12)" transform="translate(12,35.7) rotate(50) scale(4.5,2.5)"/><path d="M0,27.2 C-5,29.2 -11.5,35.7 -11.5,41.7 C-11.5,45.7 -8.5,47 -4.5,46.5 L0,47 Z" fill="url(#hg4)"/><path d="M0,27.2 C5,29.2 11.5,35.7 11.5,41.7 C11.5,45.7 8.5,47 4.5,46.5 L0,47 Z" fill="url(#hg4)"/><path d="M0,27.2 C5,29.2 11.5,35.7 11.5,41.7 C11.5,45.7 8.5,47 4.5,46.5 L0,47 Z" fill="#000" fill-opacity="0.10"/><path d="M0,27.2 C5,29.2 11.5,35.7 11.5,41.7 C11.5,45.7 8.5,47 4.5,46.5 L0,47 L-4.5,46.5 C-8.5,47 -11.5,45.7 -11.5,41.7 C-11.5,35.7 -5,29.2 0,27.2 Z" fill="none" stroke="#0a2878" stroke-width="1.2" stroke-opacity="0.7"/><path d="M0,29.2 L0,47" stroke="#0a2878" stroke-width="0.5" stroke-opacity="0.35"/><path d="M0,33.44 C3.4,34.8 7.82,39.22 7.82,43.3 C7.82,46.02 5.78,46.9 3.06,46.56 L0,46.9 L-3.06,46.56 C-5.78,46.9 -7.82,46.02 -7.82,43.3 C-7.82,39.22 -3.4,34.8 0,33.44 Z" fill="#2a90ea" fill-opacity="0.7" stroke="#0a2878" stroke-width="0.6" stroke-opacity="0.5"/></g></g><g transform="translate(384.05,145.7) scale(0.987) translate(0,-18.5)"><g><path d="M-59.1,44.7 A59.1,26.2 0 0 0 -42,63.1 L-42,128.9 A59.1,26.2 0 0 1 -59.1,110.5 Z" fill="url(#lw5)"/><path d="M-59.1,44.7 A59.1,26.2 0 0 0 -42,63.1 L-42,128.9 A59.1,26.2 0 0 1 -59.1,110.5 Z" fill="url(#lsh5)"/><path d="M42,63.1 A59.1,26.2 0 0 0 59.1,44.7 L59.1,110.5 A59.1,26.2 0 0 1 42,128.9 Z" fill="url(#rw5)"/><path d="M42,63.1 A59.1,26.2 0 0 0 59.1,44.7 L59.1,110.5 A59.1,26.2 0 0 1 42,128.9 Z" fill="url(#rsh5)"/><path d="M-42,63.1 L0,45.2 L0,110.5 L-42,128.9 Z" fill="url(#li5)"/><path d="M0,45.2 L42,63.1 L42,128.9 L0,110.5 Z" fill="url(#ri5)"/><path d="M0,45.2 L42,63.1 L42,128.9 L0,110.5 Z" fill="url(#ris5)"/><path d="M0,45.2 L42,63.1 A59.1,26.2 0 1 0 -42,63.1 Z" fill="#20f0b1"/><path d="M0,45.2 L42,63.1 A59.1,26.2 0 1 0 -42,63.1 Z" fill="url(#tg5)"/><path d="M0,45.2 L42,63.1 A59.1,26.2 0 1 0 -42,63.1 Z" fill="none" stroke="#001030" stroke-width="0.8" stroke-opacity="0.6"/><path d="M0,45.2 L-41.79,26.17 M0,45.2 L41.79,26.17" stroke="#001030" stroke-width="0.8" stroke-opacity="0.45" fill="none"/><path d="M0,45.2 L0,110.5 M-42,63.1 L-42,128.9 M42,63.1 L42,128.9" stroke="#001030" stroke-width="0.6" stroke-opacity="0.35" fill="none"/><path d="M-59.1,110.5 A59.1,26.2 0 0 0 -42,128.9 L0,110.5 L42,128.9 A59.1,26.2 0 0 0 59.1,110.5" stroke="#000040" stroke-width="0.9" stroke-opacity="0.45" fill="none"/><ellipse cx="0" cy="46.7" rx="20.5" ry="6" fill="#24eeb4" fill-opacity="0.7" stroke="#0a3050" stroke-width="0.6" stroke-opacity="0.5"/><path d="M-18.2,46.2 C-19.2,30.7 -12.5,25.5 0,25.5 C12.5,25.5 19.2,30.7 18.2,46.2 A18.2,5 0 0 1 -18.2,46.2 Z" fill="url(#dm5)" stroke="#0a3050" stroke-width="0.7" stroke-opacity="0.6"/><ellipse cx="0" cy="0" rx="1" ry="1" fill="url(#hl5_-12)" transform="translate(-12,35.7) rotate(-50) scale(4.5,2.5)"/><ellipse cx="0" cy="0" rx="1" ry="1" fill="url(#hl5_12)" transform="translate(12,35.7) rotate(50) scale(4.5,2.5)"/><path d="M0,27.2 C-5,29.2 -11.5,35.7 -11.5,41.7 C-11.5,45.7 -8.5,47 -4.5,46.5 L0,47 Z" fill="url(#hg5)"/><path d="M0,27.2 C5,29.2 11.5,35.7 11.5,41.7 C11.5,45.7 8.5,47 4.5,46.5 L0,47 Z" fill="url(#hg5)"/><path d="M0,27.2 C5,29.2 11.5,35.7 11.5,41.7 C11.5,45.7 8.5,47 4.5,46.5 L0,47 Z" fill="#000" fill-opacity="0.10"/><path d="M0,27.2 C5,29.2 11.5,35.7 11.5,41.7 C11.5,45.7 8.5,47 4.5,46.5 L0,47 L-4.5,46.5 C-8.5,47 -11.5,45.7 -11.5,41.7 C-11.5,35.7 -5,29.2 0,27.2 Z" fill="none" stroke="#0a3050" stroke-width="1.2" stroke-opacity="0.7"/><path d="M0,29.2 L0,47" stroke="#0a3050" stroke-width="0.5" stroke-opacity="0.35"/><path d="M0,33.44 C3.4,34.8 7.82,39.22 7.82,43.3 C7.82,46.02 5.78,46.9 3.06,46.56 L0,46.9 L-3.06,46.56 C-5.78,46.9 -7.82,46.02 -7.82,43.3 C-7.82,39.22 -3.4,34.8 0,33.44 Z" fill="#38e0d0" fill-opacity="0.7" stroke="#0a3050" stroke-width="0.6" stroke-opacity="0.5"/></g></g><rect x="457.3" y="47.5" width="16" height="171" fill="url(#cbar)" stroke="#202020" stroke-width="0.8"/><path d="M457.5,65.5 h2.5 M473,65.5 h-2.5" stroke="#303030" stroke-width="0.7"/><path d="M457.5,83 h2.5 M473,83 h-2.5" stroke="#303030" stroke-width="0.7"/><path d="M457.5,100.2 h2.5 M473,100.2 h-2.5" stroke="#303030" stroke-width="0.7"/><path d="M457.5,118.1 h2.5 M473,118.1 h-2.5" stroke="#303030" stroke-width="0.7"/><path d="M457.5,135.1 h2.5 M473,135.1 h-2.5" stroke="#303030" stroke-width="0.7"/><path d="M457.5,152.1 h2.5 M473,152.1 h-2.5" stroke="#303030" stroke-width="0.7"/><path d="M457.5,170.7 h2.5 M473,170.7 h-2.5" stroke="#303030" stroke-width="0.7"/><path d="M457.5,188.5 h2.5 M473,188.5 h-2.5" stroke="#303030" stroke-width="0.7"/><path d="M457.5,205.5 h2.5 M473,205.5 h-2.5" stroke="#303030" stroke-width="0.7"/><text x="478.4" y="65" font-size="11" font-weight="bold">72</text><text x="478.4" y="103.7" font-size="11" font-weight="bold">62</text><text x="478.4" y="139.2" font-size="11" font-weight="bold">52</text><text x="478.4" y="175.2" font-size="11" font-weight="bold">42</text><text x="478.4" y="209.6" font-size="11" font-weight="bold">32</text><text x="465.3" y="235" font-size="11.8" fill="#111" stroke="#111" stroke-width="0.35">T (<tspan font-size="8" dy="-3.5">o</tspan><tspan dy="3.5">C)</tspan></text><g stroke-width="1.1" fill="none" opacity="0.75"><path d="M31.1,239 L31.1,227.5" stroke="#50c050"/><path d="M31.1,239 L22,242.6" stroke="#304070"/><path d="M31.1,239 L40.3,244" stroke="#b04060"/></g><circle cx="21.5" cy="244.5" r="0.7" fill="#667"/><text x="17.6" y="28" font-size="13.8" font-weight="bold">A</text><text x="17.3" y="278" font-size="13.8" font-weight="bold">B</text><text x="271.8" y="278" font-size="13.8" font-weight="bold">C</text><rect x="58.5" y="280.5" width="190.9" height="173.6" fill="none" stroke="#606060" stroke-width="1"/><path d="M55.5,415.5 H58.5" stroke="#606060" stroke-width="1"/><text x="51" y="419.5" font-size="11" text-anchor="end" fill="#111">40</text><path d="M55.5,370.3 H58.5" stroke="#606060" stroke-width="1"/><text x="51" y="374.3" font-size="11" text-anchor="end" fill="#111">60</text><path d="M55.5,325.1 H58.5" stroke="#606060" stroke-width="1"/><text x="51" y="329.1" font-size="11" text-anchor="end" fill="#111">80</text><path d="M80.9,454.1 V457.3" stroke="#606060" stroke-width="1"/><text x="80.9" y="470" font-size="11" text-anchor="middle" fill="#111">0</text><path d="M109.95,454.1 V457.3" stroke="#606060" stroke-width="1"/><text x="109.95" y="470" font-size="11" text-anchor="middle" fill="#111">1</text><path d="M139,454.1 V457.3" stroke="#606060" stroke-width="1"/><text x="139" y="470" font-size="11" text-anchor="middle" fill="#111">2</text><path d="M168.05,454.1 V457.3" stroke="#606060" stroke-width="1"/><text x="168.05" y="470" font-size="11" text-anchor="middle" fill="#111">3</text><path d="M197.1,454.1 V457.3" stroke="#606060" stroke-width="1"/><text x="197.1" y="470" font-size="11" text-anchor="middle" fill="#111">4</text><path d="M226.15,454.1 V457.3" stroke="#606060" stroke-width="1"/><text x="226.15" y="470" font-size="11" text-anchor="middle" fill="#111">5</text><text x="156.5" y="489" font-size="11.5" text-anchor="middle" fill="#111">Exposure Time (min)</text><text transform="translate(25,369) rotate(-90)" font-size="11.5" text-anchor="middle" fill="#111">Max Surface Temperature (°C)</text><path d="M80.9,442.62 L81.48,439.16 L82.06,436.06 L82.64,433.24 L83.22,430.66 L83.81,428.28 L84.39,426.07 L84.97,424.02 L85.55,422.09 L86.13,420.28 L86.71,418.56 L87.29,416.94 L87.87,415.41 L88.45,413.94 L89.03,412.54 L89.62,411.21 L90.2,409.93 L90.78,408.7 L91.36,407.52 L91.94,406.38 L92.52,405.28 L93.1,404.22 L93.68,403.2 L94.26,402.21 L94.84,401.25 L95.43,400.32 L96.01,399.42 L96.59,398.55 L97.17,397.69 L97.75,396.87 L98.33,396.06 L98.91,395.27 L99.49,394.51 L100.07,393.76 L100.65,393.03 L101.24,392.32 L101.82,391.62 L102.4,390.94 L102.98,390.28 L103.56,389.63 L104.14,388.99 L104.72,388.36 L105.3,387.75 L105.88,387.15 L106.46,386.56 L107.05,385.98 L107.63,385.42 L108.21,384.86 L108.79,384.31 L109.37,383.78 L109.95,383.25 L110.53,382.73 L111.11,382.22 L111.69,381.72 L112.27,381.23 L112.86,380.74 L113.44,380.26 L114.02,379.79 L114.6,379.33 L115.18,378.87 L115.76,378.42 L116.34,377.98 L116.92,377.54 L117.5,377.11 L118.08,376.69 L118.67,376.27 L119.25,375.86 L119.83,375.45 L120.41,375.05 L120.99,374.65 L121.57,374.26 L122.15,373.87 L122.73,373.49 L123.31,373.11 L123.89,372.74 L124.48,372.37 L125.06,372 L125.64,371.64 L126.22,371.29 L126.8,370.94 L127.38,370.59 L127.96,370.25 L128.54,369.91 L129.12,369.57 L129.7,369.24 L130.28,368.91 L130.87,368.59 L131.45,368.26 L132.03,367.95 L132.61,367.63 L133.19,367.32 L133.77,367.01 L134.35,366.7 L134.93,366.4 L135.51,366.1 L136.1,365.81 L136.68,365.51 L137.26,365.22 L137.84,364.93 L138.42,364.65 L139,364.36 L139.58,364.08 L140.16,363.81 L140.74,363.53 L141.32,363.26 L141.91,362.99 L142.49,362.72 L143.07,362.45 L143.65,362.19 L144.23,361.93 L144.81,361.67 L145.39,361.41 L145.97,361.16 L146.55,360.91 L147.13,360.66 L147.72,360.41 L148.3,360.16 L148.88,359.92 L149.46,359.67 L150.04,359.43 L150.62,359.19 L151.2,358.96 L151.78,358.72 L152.36,358.49 L152.94,358.26 L153.53,358.03 L154.11,357.8 L154.69,357.57 L155.27,357.35 L155.85,357.13 L156.43,356.91 L157.01,356.69 L157.59,356.47 L158.17,356.25 L158.75,356.04 L159.34,355.82 L159.92,355.61 L160.5,355.4 L161.08,355.19 L161.66,354.98 L162.24,354.78 L162.82,354.57 L163.4,354.37 L163.98,354.16 L164.56,353.96 L165.15,353.76 L165.73,353.57 L166.31,353.37 L166.89,353.17 L167.47,352.98 L168.05,352.79 L168.63,352.59 L169.21,352.4 L169.79,352.21 L170.37,352.02 L170.96,351.84 L171.54,351.65 L172.12,351.47 L172.7,351.28 L173.28,351.1 L173.86,350.92 L174.44,350.74 L175.02,350.56 L175.6,350.38 L176.18,350.2 L176.77,350.02 L177.35,349.85 L177.93,349.67 L178.51,349.5 L179.09,349.33 L179.67,349.16 L180.25,348.99 L180.83,348.82 L181.41,348.65 L181.99,348.48 L182.57,348.31 L183.16,348.15 L183.74,347.98 L184.32,347.82 L184.9,347.65 L185.48,347.49 L186.06,347.33 L186.64,347.17 L187.22,347.01 L187.8,346.85 L188.39,346.69 L188.97,346.53 L189.55,346.38 L190.13,346.22 L190.71,346.07 L191.29,345.91 L191.87,345.76 L192.45,345.61 L193.03,345.45 L193.61,345.3 L194.19,345.15 L194.78,345 L195.36,344.85 L195.94,344.71 L196.52,344.56 L197.1,344.41 L197.68,344.27 L198.26,344.12 L198.84,343.98 L199.42,343.83 L200,343.69 L200.59,343.55 L201.17,343.4 L201.75,343.26 L202.33,343.12 L202.91,342.98 L203.49,342.84 L204.07,342.7 L204.65,342.57 L205.23,342.43 L205.81,342.29 L206.4,342.15 L206.98,342.02 L207.56,341.88 L208.14,341.75 L208.72,341.62 L209.3,341.48 L209.88,341.35 L210.46,341.22 L211.04,341.09 L211.62,340.95 L212.21,340.82 L212.79,340.69 L213.37,340.56 L213.95,340.44 L214.53,340.31 L215.11,340.18 L215.69,340.05 L216.27,339.93 L216.85,339.8 L217.44,339.67 L218.02,339.55 L218.6,339.42 L219.18,339.3 L219.76,339.18 L220.34,339.05 L220.92,338.93 L221.5,338.81 L222.08,338.69 L222.66,338.57 L223.25,338.45 L223.83,338.33 L224.41,338.21 L224.99,338.09 L225.57,337.97 L226.15,337.85" fill="none" stroke="#e0182c" stroke-width="1.9"/><path d="M80.9,443.07 L88.16,435.84 L95.43,431.55 L109.95,427.48 L124.48,421.6 L139,414.6 L168.05,410.75 L226.15,408.27" fill="none" stroke="#40d040" stroke-width="1.8"/><rect x="78.6" y="440.77" width="4.6" height="4.6" fill="#40d040" stroke="#204020" stroke-width="0.8"/><path d="M88.16,434.26 V437.42 M84.66,434.26 h7 M84.66,437.42 h7" stroke="#202020" stroke-width="0.9"/><rect x="85.86" y="433.54" width="4.6" height="4.6" fill="#40d040" stroke="#204020" stroke-width="0.8"/><path d="M95.43,429.96 V433.13 M91.93,429.96 h7 M91.93,433.13 h7" stroke="#202020" stroke-width="0.9"/><rect x="93.13" y="429.25" width="4.6" height="4.6" fill="#40d040" stroke="#204020" stroke-width="0.8"/><path d="M109.95,425.67 V429.29 M106.45,425.67 h7 M106.45,429.29 h7" stroke="#202020" stroke-width="0.9"/><rect x="107.65" y="425.18" width="4.6" height="4.6" fill="#40d040" stroke="#204020" stroke-width="0.8"/><path d="M124.48,420.02 V423.18 M120.98,420.02 h7 M120.98,423.18 h7" stroke="#202020" stroke-width="0.9"/><rect x="122.18" y="419.3" width="4.6" height="4.6" fill="#40d040" stroke="#204020" stroke-width="0.8"/><path d="M139,413.01 V416.18 M135.5,413.01 h7 M135.5,416.18 h7" stroke="#202020" stroke-width="0.9"/><rect x="136.7" y="412.3" width="4.6" height="4.6" fill="#40d040" stroke="#204020" stroke-width="0.8"/><path d="M168.05,409.17 V412.34 M164.55,409.17 h7 M164.55,412.34 h7" stroke="#202020" stroke-width="0.9"/><rect x="165.75" y="408.45" width="4.6" height="4.6" fill="#40d040" stroke="#204020" stroke-width="0.8"/><path d="M226.15,406.46 V410.08 M222.65,406.46 h7 M222.65,410.08 h7" stroke="#202020" stroke-width="0.9"/><rect x="223.85" y="405.97" width="4.6" height="4.6" fill="#40d040" stroke="#204020" stroke-width="0.8"/><path d="M80.9,442.62 L81,442.35 L81.11,442.01 L81.23,441.61 L81.39,441.15 L81.59,440.65 L81.86,440.12 L82.2,439.57 L82.64,439 L83.17,438.41 L83.75,437.76 L84.41,437.08 L85.13,436.38 L85.92,435.66 L86.79,434.95 L87.73,434.25 L88.74,433.58 L89.88,432.92 L91.14,432.26 L92.51,431.6 L93.94,430.95 L95.38,430.32 L96.82,429.71 L98.2,429.14 L99.49,428.61 L100.66,428.14 L101.72,427.73 L102.72,427.36 L103.7,427.01 L104.73,426.67 L105.84,426.3 L107.08,425.9 L108.5,425.44 L110.13,424.92 L111.94,424.35 L113.88,423.75 L115.91,423.13 L117.97,422.5 L120.02,421.87 L122.01,421.27 L123.89,420.7 L125.67,420.15 L127.38,419.62 L129.04,419.1 L130.68,418.59 L132.33,418.09 L134.01,417.6 L135.74,417.11 L137.55,416.63 L139.38,416.16 L141.18,415.69 L143,415.24 L144.86,414.79 L146.81,414.35 L148.88,413.91 L151.11,413.46 L153.53,413.01 L156.17,412.56 L159.02,412.09 L162.03,411.63 L165.16,411.16 L168.36,410.7 L171.59,410.25 L174.79,409.82 L177.93,409.4 L181.03,408.99 L184.17,408.6 L187.33,408.21 L190.49,407.84 L193.64,407.48 L196.77,407.12 L199.87,406.79 L202.91,406.46 L206.06,406.14 L209.39,405.81 L212.77,405.49 L216.09,405.19 L219.21,404.91 L222.01,404.66 L224.37,404.45 L226.15,404.29" fill="none" stroke="#1a3cc0" stroke-width="1.9"/><path d="M80.9,443.07 L88.16,403.97 L95.43,384.76 L109.95,367.81 L124.48,358.55 L139,355.61 L168.05,347.25 L226.15,343.41" fill="none" stroke="#000" stroke-width="2.3"/><path d="M88.16,397.65 V410.3 M84.16,397.65 h8 M84.16,410.3 h8" stroke="#000" stroke-width="1"/><circle cx="88.16" cy="403.97" r="3.3" fill="#000"/><path d="M95.43,378.89 V390.64 M91.43,378.89 h8 M91.43,390.64 h8" stroke="#000" stroke-width="1"/><circle cx="95.43" cy="384.76" r="3.3" fill="#000"/><path d="M109.95,362.39 V373.24 M105.95,362.39 h8 M105.95,373.24 h8" stroke="#000" stroke-width="1"/><circle cx="109.95" cy="367.81" r="3.3" fill="#000"/><path d="M124.48,355.84 V361.26 M120.48,355.84 h8 M120.48,361.26 h8" stroke="#000" stroke-width="1"/><circle cx="124.48" cy="358.55" r="3.3" fill="#000"/><path d="M139,350.41 V360.81 M135,350.41 h8 M135,360.81 h8" stroke="#000" stroke-width="1"/><circle cx="139" cy="355.61" r="3.3" fill="#000"/><path d="M168.05,342.05 V352.45 M164.05,342.05 h8 M164.05,352.45 h8" stroke="#000" stroke-width="1"/><circle cx="168.05" cy="347.25" r="3.3" fill="#000"/><path d="M226.15,337.76 V349.06 M222.15,337.76 h8 M222.15,349.06 h8" stroke="#000" stroke-width="1"/><circle cx="226.15" cy="343.41" r="3.3" fill="#000"/><rect x="77.9" y="440.07" width="6" height="6" fill="#40d040" stroke="#000" stroke-width="1.2"/><rect x="61.5" y="284" width="135.7" height="53.5" fill="#fff" stroke="#505050" stroke-width="1"/><path d="M64.8,291.8 H87.5" stroke="#000" stroke-width="2"/><circle cx="76.2" cy="291.8" r="3" fill="#000"/><text x="93.3" y="295.6" font-size="10.3" font-weight="bold" fill="#111">PEG-NRs: Measured</text><path d="M64.8,304 H87.5" stroke="#e0182c" stroke-width="2"/><text x="93.3" y="307.8" font-size="10.3" font-weight="bold" fill="#111">PEG-NRs: Simulated</text><path d="M64.8,315.8 H87.5" stroke="#40d040" stroke-width="2"/><rect x="73.6" y="313.2" width="5.2" height="5.2" fill="#40d040" stroke="#205020" stroke-width="0.8"/><text x="93.3" y="319.6" font-size="10.3" font-weight="bold" fill="#111">Saline: Measured</text><path d="M64.8,328 H87.5" stroke="#1a3cc0" stroke-width="2"/><text x="93.3" y="331.8" font-size="10.3" font-weight="bold" fill="#111">Saline: Simulated</text><rect x="309.6" y="283" width="192.7" height="173" fill="none" stroke="#606060" stroke-width="1"/><path d="M299.3,456 H309.6" stroke="#606060" stroke-width="1"/><path d="M306.3,418 H309.6" stroke="#606060" stroke-width="1"/><text x="303" y="422" font-size="11" text-anchor="end" fill="#111">40</text><path d="M306.3,372.85 H309.6" stroke="#606060" stroke-width="1"/><text x="303" y="376.85" font-size="11" text-anchor="end" fill="#111">60</text><path d="M306.3,327.7 H309.6" stroke="#606060" stroke-width="1"/><text x="303" y="331.7" font-size="11" text-anchor="end" fill="#111">80</text><path d="M326.4,456 V459.5" stroke="#606060" stroke-width="1"/><text x="326.4" y="471.5" font-size="11" text-anchor="middle" fill="#111">0</text><path d="M356.17,456 V459.5" stroke="#606060" stroke-width="1"/><text x="356.17" y="471.5" font-size="11" text-anchor="middle" fill="#111">1</text><path d="M385.94,456 V459.5" stroke="#606060" stroke-width="1"/><text x="385.94" y="471.5" font-size="11" text-anchor="middle" fill="#111">2</text><path d="M415.71,456 V459.5" stroke="#606060" stroke-width="1"/><text x="415.71" y="471.5" font-size="11" text-anchor="middle" fill="#111">3</text><path d="M445.48,456 V459.5" stroke="#606060" stroke-width="1"/><text x="445.48" y="471.5" font-size="11" text-anchor="middle" fill="#111">4</text><path d="M475.25,456 V459.5" stroke="#606060" stroke-width="1"/><text x="475.25" y="471.5" font-size="11" text-anchor="middle" fill="#111">5</text><text x="403" y="489.5" font-size="11.5" text-anchor="middle" fill="#111">Exposure Time (min)</text><text transform="translate(280.6,374) rotate(-90)" font-size="11.5" text-anchor="middle" fill="#111">Temperature (°C)</text><path d="M326.4,435.16 L326.74,434.95 L327.13,434.71 L327.56,434.45 L328.04,434.17 L328.56,433.86 L329.11,433.53 L329.7,433.18 L330.32,432.81 L330.96,432.43 L331.63,432.02 L332.32,431.6 L333.02,431.17 L333.74,430.72 L334.47,430.26 L335.21,429.78 L335.95,429.29 L336.7,428.8 L337.44,428.29 L338.18,427.78 L338.9,427.26 L339.63,426.72 L340.35,426.16 L341.08,425.57 L341.82,424.97 L342.56,424.34 L343.31,423.7 L344.06,423.05 L344.83,422.38 L345.61,421.7 L346.4,421.02 L347.21,420.33 L348.03,419.63 L348.86,418.94 L349.72,418.24 L350.59,417.54 L351.48,416.85 L352.4,416.16 L353.33,415.49 L354.29,414.82 L355.28,414.16 L356.27,413.52 L357.26,412.87 L358.25,412.23 L359.24,411.6 L360.24,410.97 L361.25,410.34 L362.28,409.7 L363.33,409.07 L364.4,408.44 L365.49,407.81 L366.62,407.18 L367.78,406.54 L368.98,405.91 L370.22,405.26 L371.51,404.62 L372.85,403.97 L374.25,403.31 L375.7,402.64 L377.21,401.97 L378.8,401.29 L380.47,400.6 L382.26,399.88 L384.15,399.13 L386.14,398.37 L388.19,397.59 L390.32,396.81 L392.49,396.01 L394.71,395.22 L396.95,394.42 L399.21,393.63 L401.47,392.85 L403.72,392.08 L405.94,391.33 L408.14,390.6 L410.28,389.89 L412.37,389.21 L414.39,388.56 L416.32,387.95 L418.15,387.38 L419.88,386.85 L421.5,386.36 L423.05,385.91 L424.52,385.49 L425.92,385.11 L427.27,384.75 L428.56,384.42 L429.82,384.11 L431.03,383.83 L432.22,383.56 L433.39,383.31 L434.54,383.06 L435.68,382.83 L436.83,382.61 L437.98,382.38 L439.15,382.16 L440.34,381.94 L441.56,381.71 L442.82,381.48 L444.12,381.23 L445.48,380.98 L446.91,380.71 L448.42,380.44 L450,380.16 L451.64,379.88 L453.33,379.6 L455.04,379.32 L456.78,379.05 L458.52,378.77 L460.25,378.5 L461.97,378.24 L463.65,377.98 L465.29,377.74 L466.87,377.5 L468.38,377.27 L469.8,377.06 L471.13,376.86 L472.36,376.68 L473.46,376.51 L474.43,376.36 L475.25,376.24" fill="none" stroke="#000" stroke-width="2.2" stroke-dasharray="7,2.5,2,2.5"/><path d="M326.4,437.87 L326.74,437.27 L327.14,436.56 L327.58,435.75 L328.07,434.86 L328.6,433.88 L329.18,432.84 L329.78,431.73 L330.42,430.57 L331.08,429.37 L331.76,428.14 L332.46,426.89 L333.17,425.63 L333.9,424.36 L334.63,423.1 L335.36,421.85 L336.09,420.63 L336.81,419.44 L337.52,418.3 L338.22,417.22 L338.9,416.19 L339.58,415.21 L340.26,414.23 L340.95,413.25 L341.65,412.28 L342.36,411.32 L343.07,410.37 L343.78,409.43 L344.5,408.49 L345.23,407.57 L345.96,406.66 L346.68,405.76 L347.41,404.87 L348.14,404 L348.87,403.14 L349.6,402.3 L350.33,401.48 L351.05,400.67 L351.77,399.88 L352.48,399.11 L353.19,398.36 L353.89,397.64 L354.56,396.95 L355.22,396.28 L355.86,395.64 L356.49,395.03 L357.11,394.43 L357.73,393.85 L358.35,393.29 L358.98,392.74 L359.61,392.19 L360.26,391.66 L360.92,391.12 L361.6,390.59 L362.3,390.05 L363.02,389.51 L363.78,388.96 L364.57,388.4 L365.4,387.82 L366.27,387.23 L367.18,386.62 L368.14,385.99 L369.13,385.36 L370.14,384.71 L371.19,384.05 L372.26,383.38 L373.36,382.71 L374.49,382.04 L375.63,381.36 L376.8,380.68 L378,380 L379.2,379.33 L380.43,378.65 L381.67,377.98 L382.93,377.32 L384.2,376.66 L385.49,376.01 L386.78,375.37 L388.08,374.74 L389.39,374.13 L390.7,373.53 L392.04,372.94 L393.41,372.35 L394.81,371.76 L396.23,371.18 L397.68,370.6 L399.15,370.03 L400.64,369.46 L402.14,368.9 L403.65,368.34 L405.16,367.8 L406.68,367.26 L408.19,366.73 L409.71,366.21 L411.21,365.71 L412.7,365.21 L414.18,364.72 L415.64,364.25 L417.08,363.79 L418.49,363.35 L419.88,362.92 L421.23,362.5 L422.56,362.11 L423.87,361.73 L425.16,361.36 L426.43,361.01 L427.69,360.67 L428.94,360.34 L430.18,360.03 L431.41,359.72 L432.64,359.42 L433.87,359.12 L435.11,358.84 L436.35,358.55 L437.61,358.27 L438.87,358 L440.15,357.72 L441.45,357.44 L442.77,357.16 L444.11,356.88 L445.48,356.6 L446.91,356.3 L448.42,356.01 L450,355.71 L451.64,355.4 L453.33,355.1 L455.04,354.79 L456.78,354.49 L458.52,354.19 L460.25,353.89 L461.97,353.6 L463.65,353.32 L465.29,353.05 L466.87,352.79 L468.38,352.54 L469.8,352.31 L471.13,352.09 L472.36,351.89 L473.46,351.71 L474.43,351.54 L475.25,351.4" fill="none" stroke="#d8102a" stroke-width="2.2" stroke-dasharray="7,2.5,2,2.5"/><path d="M326.4,445.54 L326.74,444.69 L327.15,443.66 L327.6,442.49 L328.11,441.18 L328.66,439.75 L329.25,438.22 L329.88,436.6 L330.53,434.91 L331.21,433.16 L331.91,431.38 L332.62,429.57 L333.34,427.75 L334.07,425.94 L334.8,424.15 L335.53,422.41 L336.24,420.72 L336.94,419.1 L337.62,417.57 L338.28,416.15 L338.9,414.84 L339.51,413.62 L340.1,412.46 L340.68,411.34 L341.25,410.26 L341.82,409.22 L342.38,408.21 L342.94,407.24 L343.5,406.29 L344.05,405.37 L344.62,404.47 L345.18,403.59 L345.76,402.72 L346.34,401.86 L346.93,401.01 L347.53,400.17 L348.15,399.32 L348.79,398.47 L349.44,397.62 L350.12,396.75 L350.81,395.88 L351.52,395 L352.24,394.12 L352.96,393.26 L353.69,392.4 L354.42,391.56 L355.17,390.71 L355.93,389.88 L356.7,389.05 L357.48,388.23 L358.27,387.41 L359.08,386.6 L359.91,385.79 L360.75,384.98 L361.61,384.18 L362.48,383.38 L363.38,382.58 L364.3,381.78 L365.24,380.99 L366.2,380.19 L367.18,379.4 L368.19,378.6 L369.22,377.8 L370.27,377 L371.34,376.2 L372.43,375.39 L373.54,374.59 L374.66,373.8 L375.81,373 L376.97,372.21 L378.14,371.42 L379.34,370.65 L380.55,369.87 L381.77,369.11 L383.01,368.35 L384.26,367.6 L385.52,366.87 L386.8,366.14 L388.09,365.43 L389.39,364.73 L390.7,364.05 L392.04,363.37 L393.41,362.7 L394.81,362.04 L396.23,361.38 L397.68,360.72 L399.15,360.08 L400.64,359.45 L402.14,358.82 L403.65,358.2 L405.16,357.6 L406.68,357 L408.19,356.42 L409.71,355.85 L411.21,355.3 L412.7,354.76 L414.18,354.24 L415.64,353.73 L417.08,353.24 L418.49,352.76 L419.88,352.31 L421.23,351.87 L422.56,351.46 L423.87,351.08 L425.16,350.71 L426.43,350.36 L427.69,350.03 L428.94,349.71 L430.18,349.41 L431.41,349.12 L432.64,348.84 L433.87,348.56 L435.11,348.3 L436.35,348.04 L437.61,347.78 L438.87,347.52 L440.15,347.27 L441.45,347.01 L442.77,346.75 L444.11,346.48 L445.48,346.21 L446.91,345.93 L448.42,345.65 L450,345.36 L451.64,345.07 L453.33,344.77 L455.04,344.48 L456.78,344.19 L458.52,343.91 L460.25,343.62 L461.97,343.35 L463.65,343.08 L465.29,342.82 L466.87,342.57 L468.38,342.33 L469.8,342.11 L471.13,341.9 L472.36,341.71 L473.46,341.54 L474.43,341.38 L475.25,341.25" fill="none" stroke="#40dd30" stroke-width="2.2" stroke-dasharray="7,2.5,2,2.5"/><rect x="314" y="287" width="166" height="46.5" fill="#fff" stroke="#505050" stroke-width="1"/><path d="M318,296.3 H346.5" stroke="#000" stroke-width="2.4" stroke-dasharray="7,2.5,2,2.5"/><text x="356" y="300.3" font-size="11.3" font-weight="bold" fill="#111">Deep Tumor Boundary</text><path d="M318,310.3 H346.5" stroke="#d8102a" stroke-width="2.4" stroke-dasharray="7,2.5,2,2.5"/><text x="356" y="314.3" font-size="11.3" font-weight="bold" fill="#111">Tumor Core</text><path d="M318,323.9 H346.5" stroke="#40dd30" stroke-width="2.4" stroke-dasharray="7,2.5,2,2.5"/><text x="356" y="327.9" font-size="11.3" font-weight="bold" fill="#111">Tumor Surface</text><rect x="0.5" y="0.5" width="519" height="508" fill="none" stroke="#000" stroke-width="1"/></svg></body></html>
